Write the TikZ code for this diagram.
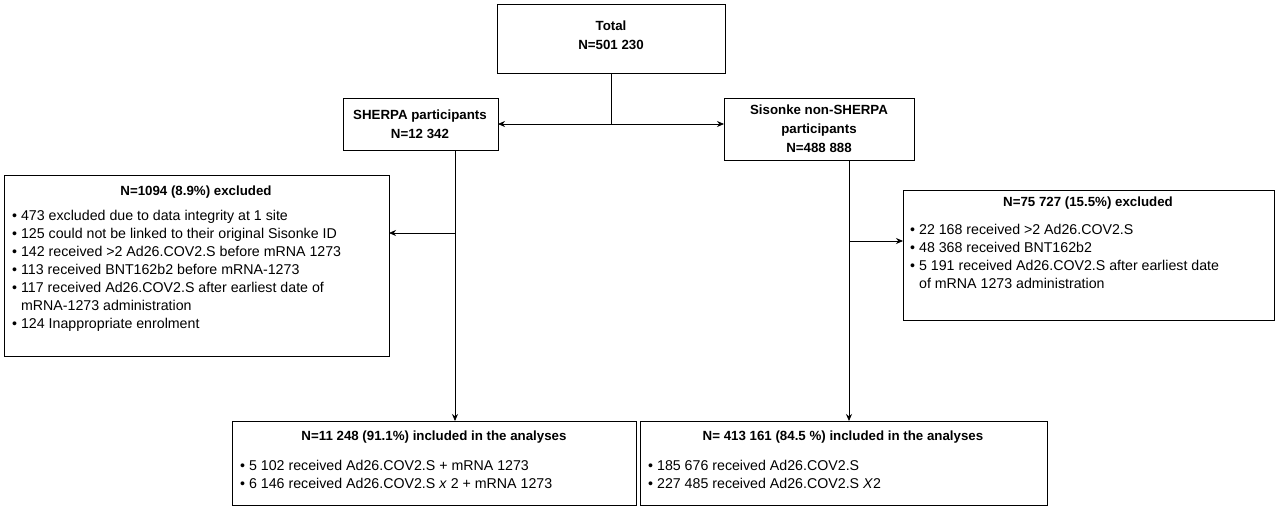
\documentclass[tikz,border=0pt]{standalone}
\usepackage{fontspec}
\setmainfont{Liberation Sans}
\usetikzlibrary{arrows.meta}
\begin{document}
\begin{tikzpicture}[x=1pt,y=-1pt,
  box/.style={draw,line width=0.8pt},
  txt/.style={font=\fontsize{14.2}{18}\selectfont,align=left,anchor=north west,inner sep=0pt},
  ctr/.style={font=\fontsize{13.3}{19}\selectfont\bfseries,align=center,inner sep=0pt},
  arr/.style={-{Stealth[length=7pt,width=6pt]},line width=0.8pt}]
\useasboundingbox (0,0) rectangle (1280,509);
\draw[box] (497,4) rectangle (725,73);
\node[ctr] (total) at (611,35) {Total\\N=501 230};
\coordinate (tb) at (611,73);
\draw[box] (343,98) rectangle (498,150);
\node[ctr] (sh) at (420,124) {SHERPA participants\\N=12 342};
\draw[box] (724,98) rectangle (914,160);
\node[ctr] (si) at (819,129) {Sisonke non-SHERPA\\participants\\N=488 888};
\coordinate (j) at (611,124);
\coordinate (shR) at (498,124);
\coordinate (siL) at (724,124);
\draw[line width=0.8pt] (tb) -- (j);
\draw[arr] (j) -- (shR);
\draw[arr] (j) -- (siL);
% left excluded
\draw[box] (4,175) rectangle (389,356);
\node[ctr] (lex) at (196,192) {N=1094 (8.9\%) excluded};
\node[txt] (lexl) at (12,210) {• 473 excluded due to data integrity at 1 site\\• 125 could not be linked to their original Sisonke ID\\• 142 received >2 Ad26.COV2.S before mRNA 1273\\• 113 received BNT162b2 before mRNA-1273\\• 117 received Ad26.COV2.S after earliest date of\\\phantom{• }mRNA-1273 administration\\• 124 Inappropriate enrolment};
% right excluded
\draw[box] (903,190) rectangle (1274,320);
\node[ctr] (rex) at (1088,203) {N=75 727 (15.5\%) excluded};
\node[txt] (rexl) at (910,224) {• 22 168 received >2 Ad26.COV2.S\\• 48 368 received BNT162b2\\• 5 191 received Ad26.COV2.S after earliest date\\\phantom{• }of mRNA 1273 administration};
% bottom boxes
\draw[box] (232,421) rectangle (636,505);
\node[ctr] (lin) at (434,437) {N=11 248 (91.1\%) included in the analyses};
\node[txt] (linl) at (240,460) {• 5 102 received Ad26.COV2.S + mRNA 1273\\• 6 146 received Ad26.COV2.S \textit{x} 2 + mRNA 1273};
\draw[box] (640,421) rectangle (1047,505);
\node[ctr] (rin) at (843,437) {N= 413 161 (84.5 \%) included in the analyses};
\node[txt] (rinl) at (648,460) {• 185 676 received Ad26.COV2.S\\• 227 485 received Ad26.COV2.S \textit{X}2};
% connectors
\coordinate (shb) at (455,150);
\coordinate (shj) at (455,233);
\coordinate (lexR) at (389,233);
\coordinate (lint) at (455,421);
\draw[arr] (shb) -- (lint);
\draw[arr] (shj) -- (lexR);
\coordinate (sib) at (849,160);
\coordinate (sij) at (849,241);
\coordinate (rexL) at (903,241);
\coordinate (rint) at (849,421);
\draw[arr] (sib) -- (rint);
\draw[arr] (sij) -- (rexL);
\end{tikzpicture}
\end{document}
